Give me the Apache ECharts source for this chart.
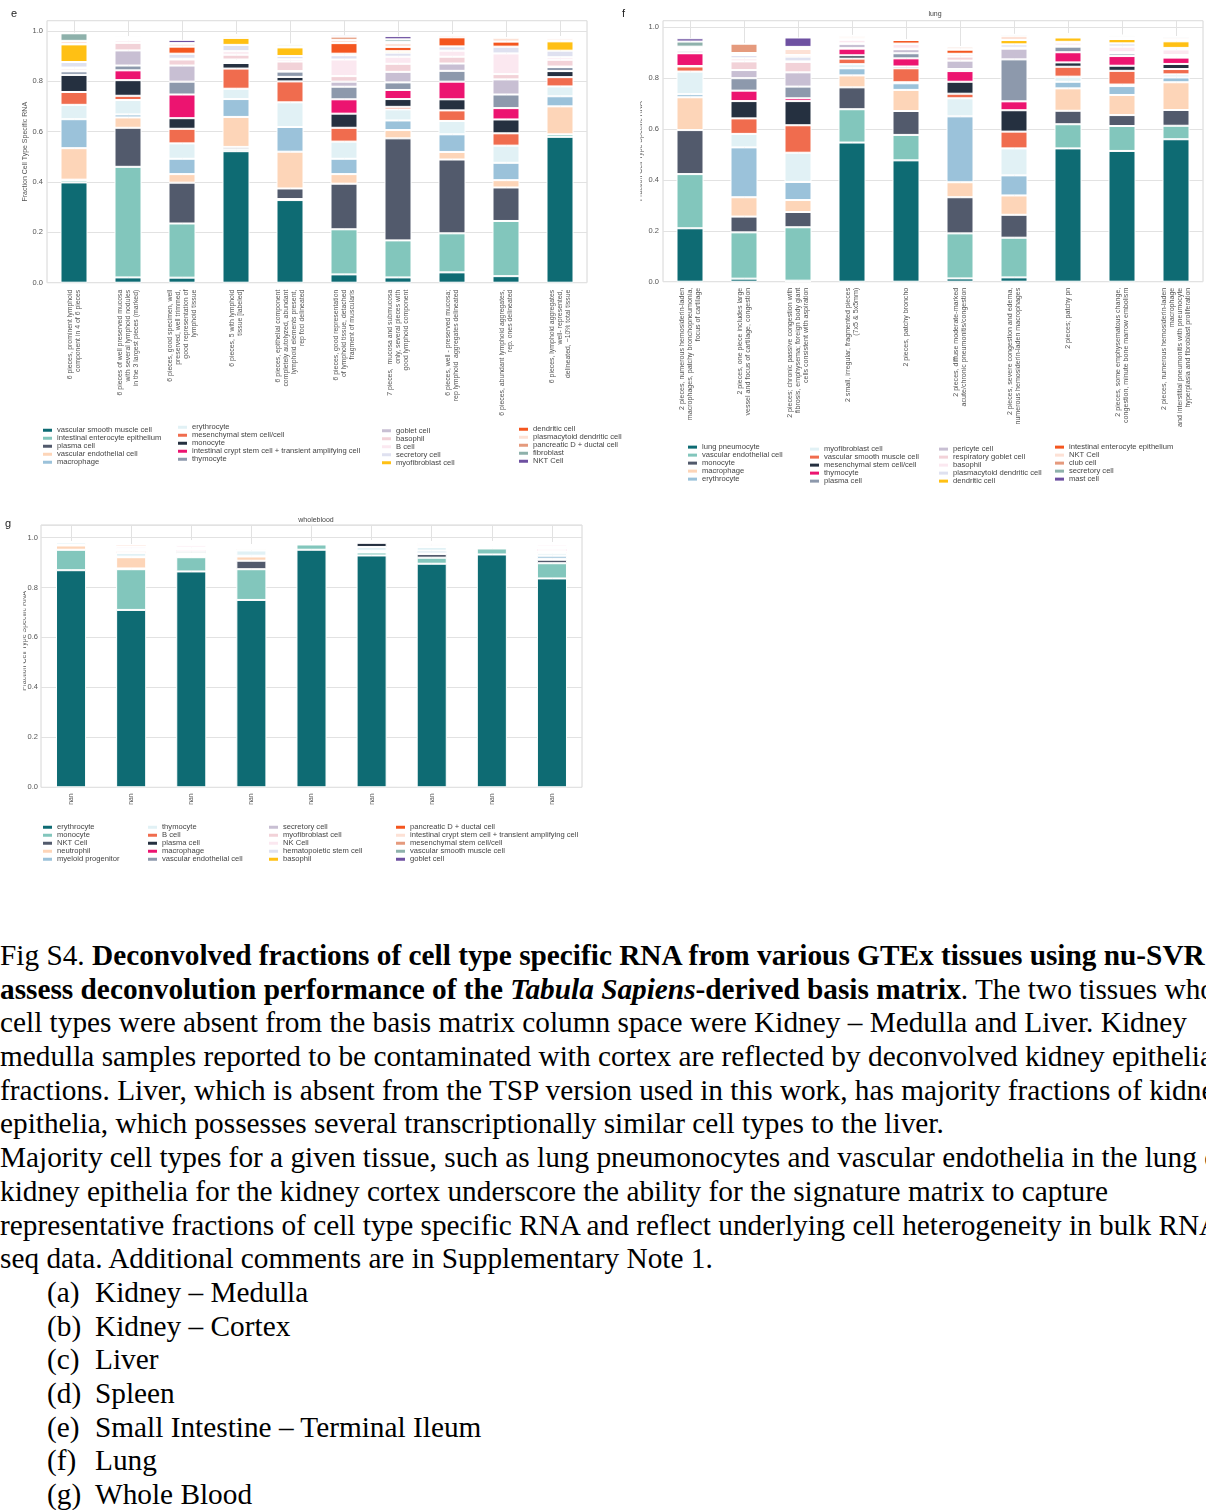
<!DOCTYPE html>
<html>
<head>
<meta charset="utf-8">
<script src="https://cdn.jsdelivr.net/npm/echarts@6/dist/echarts.min.js"></script>
<style>
  html, body { margin: 0; padding: 0; background: #fff; width: 1206px; height: 1510px; overflow: hidden; }
  .chart { position: absolute; left: 0; top: 0; width: 1206px; height: 900px; }
  #caption { position: absolute; left: 0; top: 939px; width: 1206px; overflow: hidden;
             font-family: 'Liberation Serif', 'Times New Roman', serif; font-size: 29.3px; color: #000; }
  #caption div { white-space: nowrap; height: 33.7px; line-height: 33.7px; }
  #caption .li { padding-left: 47px; }
  #caption .li span { display: inline-block; width: 48px; }
</style>
</head>
<body>
<div id="chartE" class="chart"></div>
<div id="chartF" class="chart"></div>
<div id="chartG" class="chart"></div>
<div id="caption">
  <div>Fig S4. <b>Deconvolved fractions of cell type specific RNA from various GTEx tissues using nu-SVR to</b></div>
  <div><b>assess deconvolution performance of the <i>Tabula Sapiens</i>-derived basis matrix</b>. The two tissues whose</div>
  <div>cell types were absent from the basis matrix column space were Kidney – Medulla and Liver. Kidney</div>
  <div>medulla samples reported to be contaminated with cortex are reflected by deconvolved kidney epithelial</div>
  <div>fractions. Liver, which is absent from the TSP version used in this work, has majority fractions of kidney</div>
  <div>epithelia, which possesses several transcriptionally similar cell types to the liver.</div>
  <div>Majority cell types for a given tissue, such as lung pneumonocytes and vascular endothelia in the lung or</div>
  <div>kidney epithelia for the kidney cortex underscore the ability for the signature matrix to capture</div>
  <div>representative fractions of cell type specific RNA and reflect underlying cell heterogeneity in bulk RNA-</div>
  <div>seq data. Additional comments are in Supplementary Note 1.</div>
  <div class="li"><span>(a)</span>Kidney – Medulla</div>
  <div class="li"><span>(b)</span>Kidney – Cortex</div>
  <div class="li"><span>(c)</span>Liver</div>
  <div class="li"><span>(d)</span>Spleen</div>
  <div class="li"><span>(e)</span>Small Intestine – Terminal Ileum</div>
  <div class="li"><span>(f)</span>Lung</div>
  <div class="li"><span>(g)</span>Whole Blood</div>
</div>
<script>
// Shared colour cycle: the k-th cell type of every panel uses palette[k]
const palette = ['#0e6b73', '#82c6bc', '#525a6c', '#fdd5b8', '#9bc2da', '#e1f1f5', '#f06c4e',
  '#253040', '#ec1470', '#8d99ac', '#c8bfd3', '#f2d2d8', '#fbe8f0', '#dfe1f0', '#ffc014',
  '#f4561f', '#fde1d5', '#e59a7d', '#8eb1ab', '#6e50a1'];

// ---------- (e) small intestine, terminal ileum ----------
const eSamples = [
  '6 pieces, prominent lymphoid\ncomponent in 4 of 6 pieces',
  '6 pieces of well preserved mucosa\nwith several lymphoid nodules\nin the 3 largest pieces (marked)',
  '6 pieces, good specimen, well\npreserved, well trimmed,\ngood representation of\nlymphoid tissue',
  '6 pieces, 5 with lymphoid\ntissue [labeled]',
  '6 pieces, epithelial component\ncompletely autolyzed, abundant\nlymphoid elements present,\nrep foci delineated',
  '6 pieces, good representation\nof lymphoid tissue, detached\nfragment of muscularis',
  '7 pieces,  mucosa and submucosa\nonly, several pieces with\ngood lymphoid component',
  '6 pieces, well - preserved mucosa;\nrep lymphoid  aggregates delineated',
  '6 pieces, abundant lymphoid aggregates,\nrep. ones delineated',
  '6 pieces, lymphoid aggregates\nwell- represented,\ndelineated, ~10% total tissue'
];
const eCellTypes = ['vascular smooth muscle cell', 'intestinal enterocyte epithelium', 'plasma cell',
  'vascular endothelial cell', 'macrophage', 'erythrocyte', 'mesenchymal stem cell/cell', 'monocyte',
  'intestinal crypt stem cell + transient amplifying cell', 'thymocyte', 'goblet cell', 'basophil',
  'B cell', 'secretory cell', 'myofibroblast cell', 'dendritic cell', 'plasmacytoid dendritic cell',
  'pancreatic D + ductal cell', 'fibroblast', 'NKT Cell'];
// one row per sample, columns follow eCellTypes
const eFractions = [
  [0.398, 0.009, 0.002, 0.125, 0.115, 0.057, 0.051, 0.068, 0, 0.014, 0.003, 0.008, 0.004, 0.022, 0.07, 0.002, 0.012, 0, 0.03, 0],
  [0.021, 0.439, 0.155, 0.041, 0.012, 0.057, 0.017, 0.062, 0.039, 0.019, 0.06, 0.03, 0.01, 0.003, 0.002, 0.004, 0.003, 0, 0, 0.005],
  [0.02, 0.215, 0.162, 0.034, 0.061, 0.061, 0.058, 0.042, 0.094, 0.051, 0.064, 0.024, 0.003, 0.02, 0, 0.028, 0.012, 0.002, 0, 0.013],
  [0.522, 0.008, 0.009, 0.119, 0.071, 0.041, 0.08, 0.022, 0, 0.008, 0.006, 0.019, 0.014, 0.025, 0.028, 0, 0.008, 0.004, 0, 0],
  [0.328, 0.004, 0.042, 0.146, 0.098, 0.098, 0.083, 0.018, 0, 0.021, 0.002, 0.038, 0.009, 0.013, 0.034, 0, 0.005, 0, 0.008, 0],
  [0.033, 0.179, 0.181, 0.038, 0.061, 0.068, 0.055, 0.056, 0.057, 0.05, 0.02, 0.022, 0.066, 0.017, 0.006, 0.042, 0.013, 0.013, 0, 0.005],
  [0.021, 0.147, 0.405, 0.033, 0.038, 0.044, 0.01, 0.031, 0.036, 0.03, 0.042, 0.032, 0.028, 0.016, 0.006, 0.017, 0.015, 0.005, 0.01, 0.013],
  [0.041, 0.155, 0.293, 0.03, 0.07, 0.053, 0.042, 0.044, 0.07, 0.043, 0.029, 0.027, 0.024, 0.017, 0, 0.036, 0.01, 0, 0, 0],
  [0.026, 0.219, 0.133, 0.029, 0.069, 0.068, 0.049, 0.055, 0.045, 0.054, 0.06, 0.021, 0.082, 0.027, 0, 0.02, 0.016, 0, 0, 0],
  [0.579, 0.01, 0, 0.111, 0.04, 0.039, 0.037, 0.024, 0, 0.016, 0.002, 0.027, 0.01, 0.026, 0.037, 0.004, 0.009, 0.005, 0, 0]
];

// ---------- (f) lung ----------
const fSamples = [
  '2 pieces, numerous hemosiderin-laden\nmacrophages, patchy bronchopneumonia,\nfocus of cartilage',
  '2 pieces, one piece includes large\nvessel and focus of cartilage, congestion',
  '2 pieces; chronic passive congestion with\nfibrosis, emphysema; foreign body giant\ncells consistent with aspiration',
  '2 small, irregular, fragmented pieces\n(7x5 & 5x5mm)',
  '2 pieces, patchy broncho',
  '2 pieces, diffuse moderate-marked\nacute/chronic pneumonitis/congestion',
  '2 pieces, severe congestion and edema,\nnumerous hemosiderin-laden macrophages',
  '2 pieces; patchy pn',
  '2 pieces, some emphysematous change,\ncongestion, minute bone marrow embolism',
  '2 pieces, numerous hemosiderin-laden\nmacrophage\nand interstitial pneumonitis with pneumocyte\nhyperplasia and fibroblast proliferation'
];
const fCellTypes = ['lung pneumocyte', 'vascular endothelial cell', 'monocyte', 'macrophage', 'erythrocyte',
  'myofibroblast cell', 'vascular smooth muscle cell', 'mesenchymal stem cell/cell', 'thymocyte', 'plasma cell',
  'pericyte cell', 'respiratory goblet cell', 'basophil', 'plasmacytoid dendritic cell', 'dendritic cell',
  'intestinal enterocyte epithelium', 'NKT Cell', 'club cell', 'secretory cell', 'mast cell'];
const fFractions = [
  [0.21, 0.213, 0.173, 0.129, 0.012, 0.089, 0.02, 0.002, 0.05, 0, 0.01, 0.002, 0.006, 0.004, 0, 0, 0.004, 0, 0.02, 0.013],
  [0.012, 0.182, 0.062, 0.076, 0.196, 0.053, 0.061, 0.068, 0.041, 0.049, 0.032, 0.034, 0.012, 0.013, 0, 0.002, 0.006, 0.037, 0, 0],
  [0.004, 0.21, 0.06, 0.047, 0.071, 0.115, 0.108, 0.095, 0.011, 0.046, 0.056, 0.041, 0.002, 0.019, 0, 0.006, 0.024, 0.006, 0.002, 0.037],
  [0.547, 0.131, 0.086, 0.047, 0.028, 0.016, 0.022, 0.013, 0.026, 0.002, 0.017, 0.002, 0.014, 0.002, 0, 0.002, 0.008, 0.005, 0, 0],
  [0.477, 0.1, 0.094, 0.083, 0.026, 0.004, 0.055, 0.007, 0.032, 0.02, 0.016, 0.002, 0.018, 0.002, 0, 0.014, 0, 0, 0, 0],
  [0.013, 0.177, 0.142, 0.059, 0.259, 0.071, 0.018, 0.047, 0.042, 0.008, 0.033, 0.016, 0.009, 0.002, 0, 0.016, 0.004, 0.008, 0, 0],
  [0.017, 0.156, 0.09, 0.076, 0.079, 0.106, 0.066, 0.084, 0.035, 0.165, 0.042, 0.002, 0.002, 0.013, 0.017, 0, 0.017, 0, 0.005, 0],
  [0.524, 0.095, 0.053, 0.088, 0.026, 0.02, 0.039, 0.017, 0.04, 0.022, 0.002, 0.002, 0.012, 0.003, 0.017, 0.002, 0.008, 0, 0.005, 0],
  [0.514, 0.098, 0.043, 0.079, 0.035, 0.006, 0.054, 0.02, 0.038, 0.01, 0.003, 0.002, 0.022, 0.013, 0.017, 0.002, 0.006, 0, 0.007, 0],
  [0.56, 0.053, 0.062, 0.109, 0.019, 0.012, 0.021, 0.02, 0.025, 0.004, 0.002, 0.004, 0.022, 0.006, 0.026, 0.005, 0.009, 0, 0.005, 0]
];

// ---------- (g) whole blood ----------
const gSamples = ['nan', 'nan', 'nan', 'nan', 'nan', 'nan', 'nan', 'nan', 'nan'];
const gCellTypes = ['erythrocyte', 'monocyte', 'NKT Cell', 'neutrophil', 'myeloid progenitor',
  'thymocyte', 'B cell', 'plasma cell', 'macrophage', 'vascular endothelial cell',
  'secretory cell', 'myofibroblast cell', 'NK Cell', 'hematopoietic stem cell', 'basophil',
  'pancreatic D + ductal cell', 'intestinal crypt stem cell + transient amplifying cell',
  'mesenchymal stem cell/cell', 'vascular smooth muscle cell', 'goblet cell'];
const gFractions = [
  [0.869, 0.082, 0, 0.017, 0.002, 0.01, 0, 0, 0, 0, 0, 0, 0, 0.003, 0, 0, 0, 0, 0, 0],
  [0.71, 0.163, 0.003, 0.045, 0.002, 0.015, 0.007, 0.003, 0, 0.003, 0.002, 0.002, 0.008, 0.002, 0, 0.007, 0, 0, 0, 0],
  [0.864, 0.057, 0.003, 0.003, 0.002, 0.005, 0.005, 0.006, 0.006, 0.003, 0.002, 0.004, 0.01, 0.004, 0, 0.004, 0.004, 0.002, 0.002, 0.002],
  [0.75, 0.123, 0.034, 0.017, 0.003, 0.021, 0.006, 0.002, 0, 0.003, 0.004, 0.003, 0.004, 0, 0, 0, 0, 0, 0, 0],
  [0.951, 0.021, 0, 0, 0, 0, 0, 0, 0, 0, 0, 0, 0.005, 0.004, 0, 0, 0, 0, 0, 0],
  [0.928, 0.012, 0.002, 0.002, 0.003, 0.015, 0, 0.017, 0, 0.002, 0.002, 0.004, 0, 0, 0, 0, 0, 0, 0, 0],
  [0.895, 0.024, 0.015, 0.003, 0.01, 0.015, 0, 0, 0, 0.002, 0.003, 0.006, 0.006, 0.003, 0, 0, 0, 0, 0, 0],
  [0.932, 0.024, 0.004, 0, 0.003, 0.005, 0, 0, 0, 0.003, 0.003, 0.003, 0.005, 0, 0, 0, 0, 0, 0, 0],
  [0.836, 0.061, 0.014, 0.004, 0.012, 0.01, 0.005, 0.004, 0.008, 0.003, 0.005, 0.002, 0.008, 0.002, 0.004, 0, 0, 0, 0, 0.002]
];

const SANS = "'Liberation Sans', Arial, Helvetica, sans-serif";
const yTitle = 'Fraction Cell Type Specific RNA';

function stackedSeries(cellTypes, fractions) {
  return cellTypes.map((name, k) => ({
    name: name,
    type: 'bar',
    stack: 'total',
    barWidth: '50%',
    silent: true,
    itemStyle: { color: palette[k], borderColor: '#ffffff', borderWidth: 1 },
    data: fractions.map(row => row[k])
  }));
}

// Four stacked legend columns of five entries each
function legendColumns(cellTypes, lefts, rowCentres, step) {
  const cols = [];
  for (let c = 0; c < 4; c++) {
    cols.push({
      orient: 'vertical',
      left: lefts[c],
      top: rowCentres[c] - step / 2,
      padding: 0,
      itemGap: 0,
      itemWidth: 9,
      itemHeight: 3,
      itemTextGap: 5,
      icon: 'rect',
      selectedMode: false,
      itemStyle: { borderWidth: 0 },
      data: cellTypes.slice(c * 5, c * 5 + 5),
      textStyle: { fontSize: 7.6, lineHeight: step, color: '#444', fontFamily: SANS }
    });
  }
  return cols;
}

function tickFormatter(v) {
  const r = v / 0.2;
  return Math.abs(r - Math.round(r)) < 1e-6 ? v.toFixed(1) : '';
}

function panelOption(p) {
  return {
    animation: false,
    grid: {
      left: p.grid[0], top: p.grid[1], width: p.grid[2], height: p.grid[3],
      show: true, borderColor: '#d6d6d6', borderWidth: 1, containLabel: false, outerBoundsMode: 'none'
    },
    xAxis: {
      type: 'category',
      data: p.samples,
      axisLine: { show: false },
      axisTick: { show: false },
      splitLine: { show: true, alignWithLabel: true, lineStyle: { color: '#e2e2e2', width: 1 } },
      axisLabel: {
        interval: 0, rotate: 90, margin: p.labelMargin, fontSize: p.labelSize,
        lineHeight: p.labelLine, color: '#555', fontFamily: SANS
      }
    },
    yAxis: {
      type: 'value',
      min: 0, max: p.ymax, interval: 0.2,
      axisLine: { show: false },
      axisTick: { show: false },
      splitLine: { lineStyle: { color: '#e2e2e2', width: 1 } },
      axisLabel: { fontSize: 7.5, color: '#555', margin: p.tickMargin, fontFamily: SANS, formatter: tickFormatter },
      name: p.nameGap === null ? '' : yTitle,
      nameLocation: 'middle',
      nameGap: p.nameGap === null ? 0 : p.nameGap,
      nameRotate: 90,
      nameTextStyle: { fontSize: 7, color: '#555', fontFamily: SANS }
    },
    legend: legendColumns(p.cellTypes, p.legendLefts, p.legendRows, p.legendStep),
    graphic: p.graphic,
    series: stackedSeries(p.cellTypes, p.fractions)
  };
}

function letter(ch, x, y) {
  return { type: 'text', left: x, top: y, z: 100, silent: true,
    style: { text: ch, fontSize: 11, fill: '#222', fontFamily: SANS } };
}
function smallTitle(txt, cx, y) {
  return { type: 'text', x: cx, y: y, z: 100, silent: true,
    style: { text: txt, fontSize: 7, fill: '#444', fontFamily: SANS, align: 'center', verticalAlign: 'middle' } };
}
function sideTitle(cx, cy) {
  return { type: 'text', x: cx, y: cy, rotation: Math.PI / 2, z: 90, silent: true,
    style: { text: yTitle, fontSize: 7, fill: '#555', fontFamily: SANS, align: 'center', verticalAlign: 'middle' } };
}
function cover(x, y, w, h) {
  return { type: 'rect', shape: { x: x, y: y, width: w, height: h }, z: 100, silent: true,
    style: { fill: '#ffffff' } };
}

const chartE = echarts.init(document.getElementById('chartE'), null, { renderer: 'canvas' });
chartE.setOption(panelOption({
  samples: eSamples, cellTypes: eCellTypes, fractions: eFractions,
  grid: [47, 20.7, 540, 262], ymax: 1.04,
  labelSize: 6.9, labelLine: 8, labelMargin: 7, tickMargin: 4, nameGap: 18.5,
  legendLefts: [43, 178, 382, 519], legendRows: [430, 427, 430.5, 429], legendStep: 7.5,
  graphic: [letter('e', 11, 8)]
}));

const chartF = echarts.init(document.getElementById('chartF'), null, { renderer: 'canvas' });
chartF.setOption(panelOption({
  samples: fSamples, cellTypes: fCellTypes, fractions: fFractions,
  grid: [663, 20.7, 540, 261], ymax: 1.026,
  labelSize: 7.1, labelLine: 8, labelMargin: 6, tickMargin: 4, nameGap: 19,
  legendLefts: [688, 810, 939, 1055], legendRows: [447, 449, 449, 447], legendStep: 7.75,
  graphic: [letter('f', 622, 8), smallTitle('lung', 935, 14), cover(615, 30, 25.3, 250)]
}));

// the whole-blood panel's side title is clipped at the left margin
const chartG = echarts.init(document.getElementById('chartG'), null, { renderer: 'canvas' });
chartG.setOption(panelOption({
  samples: gSamples, cellTypes: gCellTypes, fractions: gFractions,
  grid: [41, 525, 541, 262.3], ymax: 1.05,
  labelSize: 6.9, labelLine: 8, labelMargin: 6, tickMargin: 3, nameGap: null,
  legendLefts: [43, 148, 269, 396], legendRows: [827, 827, 827, 827], legendStep: 7.5,
  graphic: [letter('g', 5, 518), smallTitle('wholeblood', 316, 520),
            sideTitle(24.5, 641), cover(0, 560, 23.3, 160)]
}));
</script>
</body>
</html>
